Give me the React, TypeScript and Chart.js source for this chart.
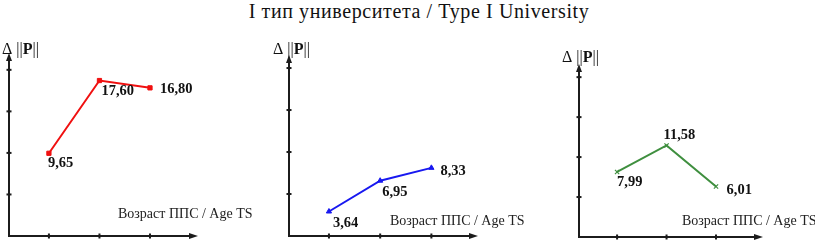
import React, { useEffect, useRef } from "react";
import { Chart, registerables } from "chart.js";
Chart.register(...registerables);

// ---- data ----
const MAIN_TITLE = "I тип университета / Type I University";
const X_TITLE = "Возраст ППС / Age TS";
const Y_TITLE_DELTA = "Δ";
const AGE_GROUPS = [1, 2, 3];
const SERIES_RED = [9.65, 17.6, 16.8];
const SERIES_BLUE = [3.64, 6.95, 8.33];
const SERIES_GREEN = [7.99, 11.58, 6.01];
const Y_TICK_COUNT = 4;

// ---- layout / styles ----
const W = 815;
const H = 243;
const AXIS_COLOR = "#1c1c1c";
const SERIF = "'Liberation Serif', 'Times New Roman', serif";

type Panel = {
  values: number[];
  color: string;
  pointStyle: string;
  pointRadius: number;
  pointBorderWidth: number;
  area: { left: number; right: number; top: number; bottom: number };
  xRange: [number, number];
  yRange: [number, number];
  tickFrac: number;
  labelOffsets: [number, number][];
  xTitlePos: [number, number];
  yTitlePos: [number, number];
};

const PANELS: Panel[] = [
  {
    values: SERIES_RED,
    color: "#f01010",
    pointStyle: "rect",
    pointRadius: 3,
    pointBorderWidth: 1,
    area: { left: 9, right: 198, top: 53, bottom: 236 },
    xRange: [0.21, 3.95],
    yRange: [0.61, 20.61],
    tickFrac: 0.227,
    labelOffsets: [[-1, 10], [2, 11], [10, 1.5]],
    xTitlePos: [118, 214],
    yTitlePos: [2, 50],
  },
  {
    values: SERIES_BLUE,
    color: "#1818f0",
    pointStyle: "triangle",
    pointRadius: 3,
    pointBorderWidth: 1,
    area: { left: 289, right: 478, top: 55, bottom: 236 },
    xRange: [0.22, 3.91],
    yRange: [1.01, 20.45],
    tickFrac: 0.232,
    labelOffsets: [[4, 11.5], [2, 11.5], [9, 3]],
    xTitlePos: [390, 221],
    yTitlePos: [273, 50],
  },
  {
    values: SERIES_GREEN,
    color: "#3f8f3f",
    pointStyle: "crossRot",
    pointRadius: 3,
    pointBorderWidth: 1.2,
    area: { left: 579, right: 763, top: 64, bottom: 237 },
    xRange: [0.23, 3.95],
    yRange: [-0.84, 22.64],
    tickFrac: 0.231,
    labelOffsets: [[0, 10.5], [-3, -10.5], [10.5, 3.5]],
    xTitlePos: [682, 221],
    yTitlePos: [562, 58],
  },
];

const fmt = (v: number) => v.toFixed(2).replace(".", ",");

function makePlugin(p: Panel) {
  return {
    id: "customAxes",
    beforeDatasetsDraw(chart: any) {
      const { ctx, chartArea: a, scales } = chart;
      const xs = scales.x;
      const ys = scales.y;
      ctx.save();
      ctx.strokeStyle = AXIS_COLOR;
      ctx.fillStyle = AXIS_COLOR;
      ctx.lineWidth = 2;
      // y axis
      ctx.beginPath();
      ctx.moveTo(a.left, a.bottom + 1);
      ctx.lineTo(a.left, a.top + 6);
      ctx.stroke();
      ctx.beginPath();
      ctx.moveTo(a.left, a.top);
      ctx.lineTo(a.left - 3, a.top + 8);
      ctx.lineTo(a.left + 3, a.top + 8);
      ctx.closePath();
      ctx.fill();
      // x axis
      ctx.beginPath();
      ctx.moveTo(a.left - 1, a.bottom);
      ctx.lineTo(a.right - 6, a.bottom);
      ctx.stroke();
      ctx.beginPath();
      ctx.moveTo(a.right, a.bottom);
      ctx.lineTo(a.right - 9, a.bottom - 3);
      ctx.lineTo(a.right - 9, a.bottom + 3);
      ctx.closePath();
      ctx.fill();
      // x ticks
      AGE_GROUPS.forEach((g) => {
        const px = xs.getPixelForValue(g);
        ctx.fillRect(px - 1, a.bottom - 2.5, 2, 5);
      });
      // y ticks
      const [y0, y1] = p.yRange;
      for (let k = 1; k <= Y_TICK_COUNT; k++) {
        const v = y0 + k * p.tickFrac * (y1 - y0);
        const py = ys.getPixelForValue(v);
        ctx.fillRect(a.left - 2.5, py - 1, 5, 2);
      }
      ctx.restore();
    },
    afterDatasetsDraw(chart: any) {
      const { ctx } = chart;
      const meta = chart.getDatasetMeta(0);
      ctx.save();
      ctx.fillStyle = "#111";
      ctx.textAlign = "left";
      ctx.textBaseline = "middle";
      ctx.font = `bold 14.5px ${SERIF}`;
      meta.data.forEach((el: any, i: number) => {
        const [dx, dy] = p.labelOffsets[i];
        ctx.fillText(fmt(p.values[i]), el.x + dx, el.y + dy);
      });
      // x axis title
      ctx.font = `14px ${SERIF}`;
      ctx.fillStyle = "#222";
      ctx.fillText(X_TITLE, p.xTitlePos[0], p.xTitlePos[1]);
      // y axis title
      ctx.font = `16px ${SERIF}`;
      ctx.fillStyle = "#111";
      const [tx, ty] = p.yTitlePos;
      ctx.fillText(Y_TITLE_DELTA + " ", tx, ty);
      const w1 = ctx.measureText(Y_TITLE_DELTA + " ").width;
      ctx.fillText("||", tx + w1, ty);
      const w2 = ctx.measureText("||").width;
      ctx.font = `bold 16px ${SERIF}`;
      ctx.fillText("P", tx + w1 + w2, ty);
      const w3 = ctx.measureText("P").width;
      ctx.font = `16px ${SERIF}`;
      ctx.fillText("||", tx + w1 + w2 + w3, ty);
      ctx.restore();
    },
  };
}

function PanelChart({ p }: { p: Panel }) {
  const ref = useRef<HTMLCanvasElement | null>(null);
  useEffect(() => {
    if (!ref.current) return;
    const chart = new Chart(ref.current, {
      type: "line",
      data: {
        datasets: [
          {
            data: AGE_GROUPS.map((g, i) => ({ x: g, y: p.values[i] })),
            borderColor: p.color,
            backgroundColor: p.color,
            borderWidth: 2,
            pointStyle: p.pointStyle as any,
            pointRadius: p.pointRadius,
            pointBorderWidth: p.pointBorderWidth,
            pointBorderColor: p.color,
            pointBackgroundColor: p.color,
            tension: 0,
            clip: false as any,
          },
        ],
      },
      options: {
        animation: false,
        responsive: false,
        devicePixelRatio: 1,
        layout: {
          padding: {
            left: p.area.left,
            right: W - p.area.right,
            top: p.area.top,
            bottom: H - p.area.bottom,
          },
        },
        plugins: { legend: { display: false }, tooltip: { enabled: false }, title: { display: false } },
        scales: {
          x: { type: "linear", display: false, min: p.xRange[0], max: p.xRange[1] },
          y: { type: "linear", display: false, min: p.yRange[0], max: p.yRange[1] },
        },
      },
      plugins: [makePlugin(p)],
    });
    return () => chart.destroy();
  }, [p]);
  return (
    <canvas
      ref={ref}
      width={W}
      height={H}
      style={{ position: "absolute", left: 0, top: 0, width: W, height: H }}
    />
  );
}

export default function App() {
  return (
    <div
      style={{
        position: "fixed",
        left: 0,
        top: 0,
        width: W,
        height: H,
        background: "#fff",
        overflow: "hidden",
      }}
    >
      <div
        style={{
          position: "absolute",
          left: 0,
          top: 0,
          width: 838,
          textAlign: "center",
          fontFamily: SERIF,
          fontSize: 20,
          letterSpacing: "0.6px",
          lineHeight: "22px",
          color: "#111",
          whiteSpace: "nowrap",
        }}
      >
        {MAIN_TITLE}
      </div>
      {PANELS.map((p, i) => (
        <PanelChart key={i} p={p} />
      ))}
    </div>
  );
}
